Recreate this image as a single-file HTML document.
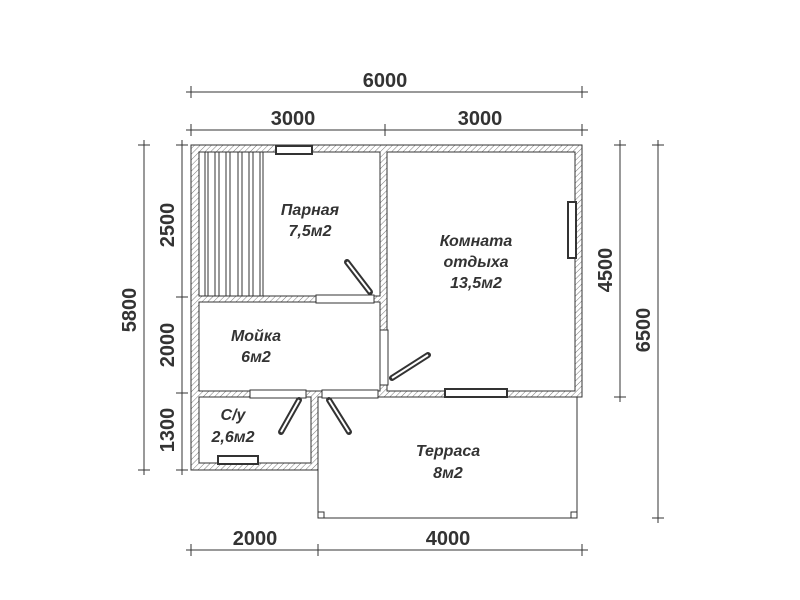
<!DOCTYPE html>
<html><head><meta charset="utf-8"><style>
body{margin:0;background:#fff}
svg{display:block}
text{font-family:"Liberation Sans",sans-serif;fill:#333}
.d{font-weight:bold;font-size:20px}
.r{font-style:italic;font-weight:bold;font-size:16px}
</style></head><body>
<svg width="800" height="600" viewBox="0 0 800 600">
<defs>
<pattern id="h" width="4" height="4" patternUnits="userSpaceOnUse" patternTransform="rotate(45)">
<rect width="4" height="4" fill="#fff"/><line x1="0" y1="0" x2="0" y2="4" stroke="#777" stroke-width="1"/>
</pattern>
</defs>
<g stroke="#333" stroke-width="1" fill="none">
<line x1="186" y1="92" x2="588" y2="92"/><line x1="191" y1="86" x2="191" y2="98"/><line x1="582" y1="86" x2="582" y2="98"/>
<line x1="186" y1="130" x2="588" y2="130"/><line x1="191" y1="124" x2="191" y2="136"/><line x1="385" y1="124" x2="385" y2="136"/><line x1="582" y1="124" x2="582" y2="136"/>
<line x1="186" y1="550" x2="588" y2="550"/><line x1="191" y1="544" x2="191" y2="556"/><line x1="318" y1="544" x2="318" y2="556"/><line x1="582" y1="544" x2="582" y2="556"/>
<line x1="144" y1="140" x2="144" y2="475"/><line x1="138" y1="145" x2="150" y2="145"/><line x1="138" y1="470" x2="150" y2="470"/>
<line x1="182" y1="140" x2="182" y2="475"/><line x1="176" y1="145" x2="188" y2="145"/><line x1="176" y1="297" x2="188" y2="297"/><line x1="176" y1="393" x2="188" y2="393"/><line x1="176" y1="470" x2="188" y2="470"/>
<line x1="620" y1="140" x2="620" y2="402"/><line x1="614" y1="145" x2="626" y2="145"/><line x1="614" y1="397" x2="626" y2="397"/>
<line x1="658" y1="140" x2="658" y2="523"/><line x1="652" y1="145" x2="664" y2="145"/><line x1="652" y1="518" x2="664" y2="518"/>
<polyline points="318,470 318,518 577,518 577,397"/>
<rect x="318" y="512" width="6" height="6"/><rect x="571" y="512" width="6" height="6"/>
<line x1="199" y1="152" x2="199" y2="296"/>
<line x1="205" y1="152" x2="205" y2="296"/><line x1="208" y1="152" x2="208" y2="296"/>
<line x1="215" y1="152" x2="215" y2="296"/><line x1="219" y1="152" x2="219" y2="296"/>
<line x1="226" y1="152" x2="226" y2="296"/><line x1="230" y1="152" x2="230" y2="296"/>
<line x1="238" y1="152" x2="238" y2="296"/><line x1="242" y1="152" x2="242" y2="296"/>
<line x1="249" y1="152" x2="249" y2="296"/><line x1="253" y1="152" x2="253" y2="296"/>
<line x1="260" y1="152" x2="260" y2="296"/><line x1="263" y1="152" x2="263" y2="296"/>
</g>
<g fill="url(#h)" stroke="#333" stroke-width="1">
<path d="M191,145 H582 V397 H318 V470 H191 Z M199,152 V296 H380 V152 Z M387,152 V391 H575 V152 Z M199,302 V391 H380 V302 Z M199,397 V463 H311 V397 Z" fill-rule="evenodd"/>
</g>
<g fill="#fff" stroke="#333" stroke-width="1">
<rect x="316" y="295" width="58" height="8"/>
<rect x="250" y="390" width="56" height="8"/>
<rect x="322" y="390" width="56" height="8"/>
<rect x="380" y="330" width="8" height="55"/>
<rect x="276" y="146" width="36" height="8" stroke-width="2"/>
<rect x="568" y="202" width="8" height="56" stroke-width="2"/>
<rect x="445" y="389" width="62" height="8" stroke-width="2"/>
<rect x="218" y="456" width="40" height="8" stroke-width="2"/>
</g>
<g stroke="#333" stroke-width="6" stroke-linecap="round">
<line x1="347" y1="262" x2="370" y2="292"/>
<line x1="392" y1="378" x2="428" y2="355"/>
<line x1="299" y1="400" x2="281" y2="432"/>
<line x1="329" y1="400" x2="349" y2="432"/>
</g>
<g stroke="#fff" stroke-width="2">
<line x1="347" y1="262" x2="370" y2="292"/>
<line x1="392" y1="378" x2="428" y2="355"/>
<line x1="299" y1="400" x2="281" y2="432"/>
<line x1="329" y1="400" x2="349" y2="432"/>
</g>
<text class="d" x="385" y="87" text-anchor="middle">6000</text>
<text class="d" x="293" y="125" text-anchor="middle">3000</text>
<text class="d" x="480" y="125" text-anchor="middle">3000</text>
<text class="d" x="255" y="545" text-anchor="middle">2000</text>
<text class="d" x="448" y="545" text-anchor="middle">4000</text>
<text class="d" transform="translate(174,225) rotate(-90)" text-anchor="middle">2500</text>
<text class="d" transform="translate(174,345) rotate(-90)" text-anchor="middle">2000</text>
<text class="d" transform="translate(174,430) rotate(-90)" text-anchor="middle">1300</text>
<text class="d" transform="translate(136,310) rotate(-90)" text-anchor="middle">5800</text>
<text class="d" transform="translate(612,270) rotate(-90)" text-anchor="middle">4500</text>
<text class="d" transform="translate(650,330) rotate(-90)" text-anchor="middle">6500</text>
<text class="r" x="310" y="215" text-anchor="middle">Парная</text>
<text class="r" x="310" y="236" text-anchor="middle">7,5м2</text>
<text class="r" x="476" y="246" text-anchor="middle">Комната</text>
<text class="r" x="476" y="267" text-anchor="middle">отдыха</text>
<text class="r" x="476" y="288" text-anchor="middle">13,5м2</text>
<text class="r" x="256" y="341" text-anchor="middle">Мойка</text>
<text class="r" x="256" y="362" text-anchor="middle">6м2</text>
<text class="r" x="233" y="420" text-anchor="middle">С/у</text>
<text class="r" x="233" y="442" text-anchor="middle">2,6м2</text>
<text class="r" x="448" y="456" text-anchor="middle">Терраса</text>
<text class="r" x="448" y="478" text-anchor="middle">8м2</text>
</svg>
</body></html>
